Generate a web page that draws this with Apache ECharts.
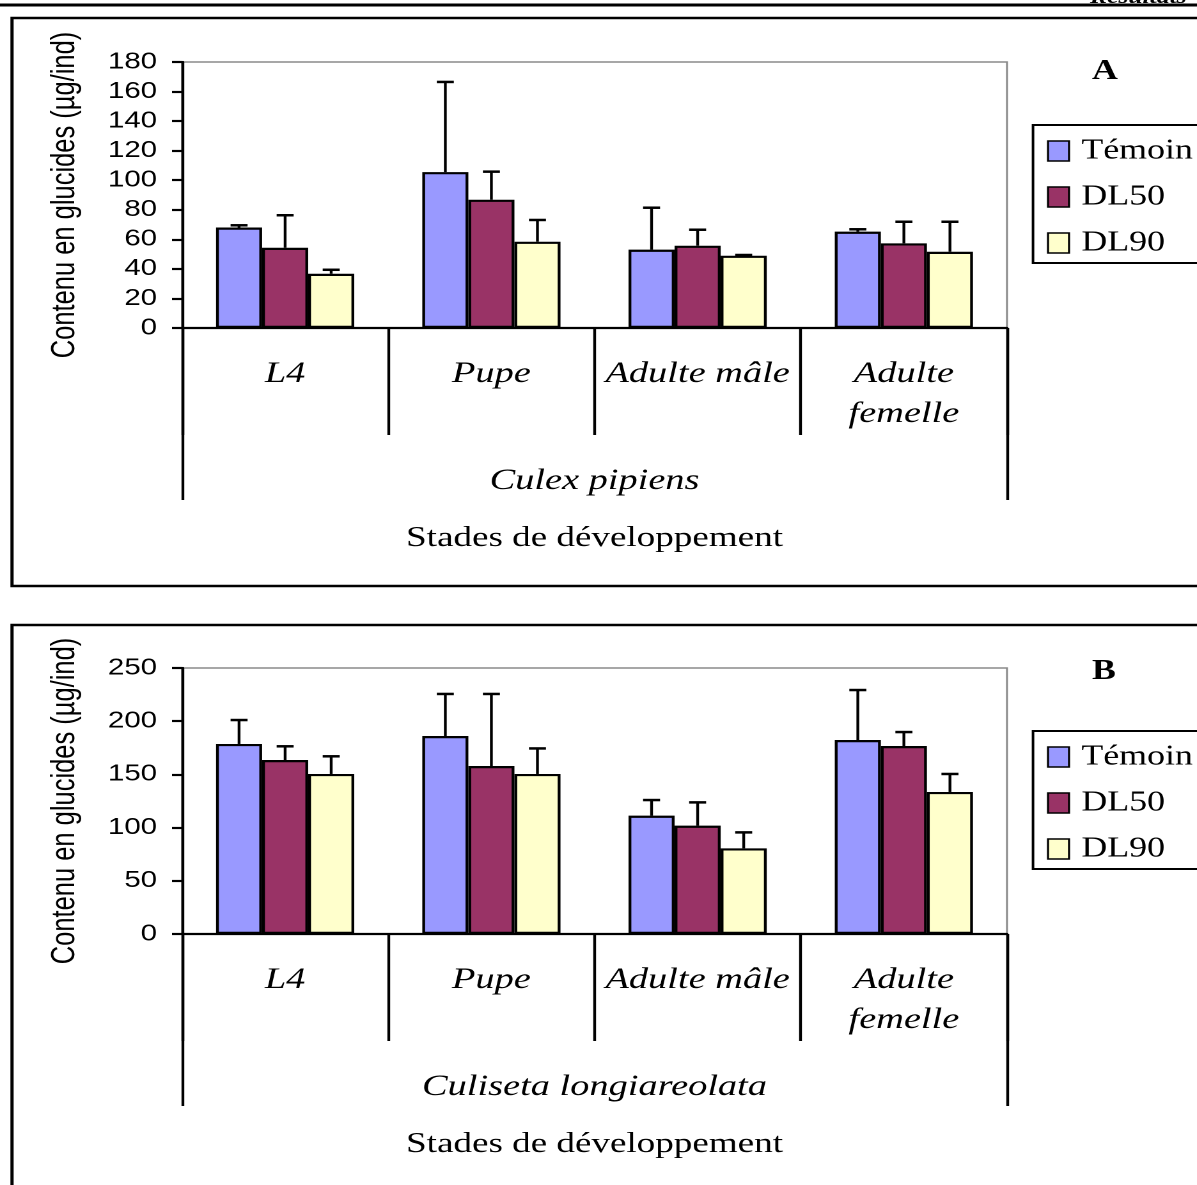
<!DOCTYPE html>
<html>
<head>
<meta charset="utf-8">
<script src="https://cdn.jsdelivr.net/npm/echarts@6/dist/echarts.min.js"></script>
<style>
html,body{margin:0;padding:0;background:#fff;overflow:hidden;width:1197px;height:1185px;}
#c{width:936px;height:1185px;transform:scaleX(1.2788);transform-origin:0 0;}
</style>
</head>
<body>
<div id="c"></div>
<script>
// ---- data ----
const categories = ['L4', 'Pupe', 'Adulte mâle', 'Adulte\nfemelle'];
const seriesNames = ['Témoin', 'DL50', 'DL90'];
const speciesA = 'Culex pipiens';
const speciesB = 'Culiseta longiareolata';
const xTitle = 'Stades de développement';
const yTitle = 'Contenu en glucides (µg/ind)';

const temoinA = [68, 105.5, 53, 65.2];
const temoinErrA = [1.5, 61, 28.4, 1.6];
const dl50A = [54.3, 86.8, 55.7, 57.3];
const dl50ErrA = [22, 19, 10.8, 14.6];
const dl90A = [36.7, 58.4, 48.9, 51.6];
const dl90ErrA = [2.7, 14.7, 0.5, 20.3];

const temoinB = [178.6, 186.1, 111.2, 182.3];
const temoinErrB = [22.5, 39.5, 14.7, 47];
const dl50B = [163.5, 157.9, 101.8, 176.7];
const dl50ErrB = [12.9, 67.7, 21.9, 13.1];
const dl90B = [150.4, 150.4, 80.5, 133.5];
const dl90ErrB = [16.6, 24, 15, 16.9];

const yTicksA = {min: 0, max: 180, interval: 20};
const yTicksB = {min: 0, max: 250, interval: 50};

// ---- styling ----
// The reference is horizontally stretched (~1.28x); the page is drawn narrower and stretched by CSS.
const SX = 1.2788;
const colors = ['#9999FF', '#993366', '#FFFFCC'];
const SERIF = '"Liberation Serif", "Times New Roman", serif';
const SANS = '"Liberation Sans", Arial, sans-serif';
const CAT_GAP = 0.33;

const chart = echarts.init(document.getElementById('c'), null, {renderer: 'canvas', devicePixelRatio: 2});

function errSeries(gridIdx, k, vals, errs) {
  return {
    type: 'custom',
    name: 'err-' + seriesNames[k] + gridIdx,
    xAxisIndex: gridIdx * 2,
    yAxisIndex: gridIdx,
    z: 5,
    silent: true,
    data: vals.map((v, i) => [i, v, errs[i]]),
    renderItem: function (params, api) {
      const ci = api.value(0), v = api.value(1), e = api.value(2);
      const p0 = api.coord([ci, v]);
      const p1 = api.coord([ci, v + e]);
      const band = api.size([1, 0])[0];
      const bw = band * (1 - CAT_GAP) / 3;
      const x = p0[0] + (k - 1) * bw;
      const cap = 8.5 / SX;
      return {
        type: 'group',
        children: [
          {type: 'line', shape: {x1: x, y1: p0[1], x2: x, y2: p1[1]}, style: {stroke: '#000', lineWidth: 2.2}},
          {type: 'line', shape: {x1: x - cap, y1: p1[1], x2: x + cap, y2: p1[1]}, style: {stroke: '#000', lineWidth: 2.5}}
        ]
      };
    }
  };
}

function barSeries(gridIdx, k, vals) {
  return {
    type: 'bar',
    name: seriesNames[k],
    xAxisIndex: gridIdx * 2,
    yAxisIndex: gridIdx,
    barGap: '0%',
    barCategoryGap: (CAT_GAP * 100) + '%',
    itemStyle: {color: colors[k], borderColor: '#000', borderWidth: 2.2},
    data: vals
  };
}

function xAxes(gridIdx, species) {
  return [
    {
      type: 'category', gridIndex: gridIdx, position: 'bottom', data: categories,
      axisLine: {show: true, lineStyle: {color: '#000', width: 2.2}},
      axisTick: {show: true, length: 107, lineStyle: {color: '#000', width: 2.2}},
      axisLabel: {interval: 0, margin: 26, color: '#000', fontFamily: SERIF, fontStyle: 'italic',
        fontSize: 30, lineHeight: 40}
    },
    {
      type: 'category', gridIndex: gridIdx, position: 'bottom', data: [species],
      axisLine: {show: false},
      axisTick: {show: true, length: 172, lineStyle: {color: '#000', width: 2.2}},
      axisLabel: {interval: 0, margin: 133, color: '#000', fontFamily: SERIF, fontStyle: 'italic',
        fontSize: 30, lineHeight: 40},
      name: xTitle, nameLocation: 'middle', nameGap: 196,
      nameTextStyle: {color: '#000', fontFamily: SERIF, fontSize: 29}
    }
  ];
}

function yAxis(gridIdx, t) {
  return {
    type: 'value', gridIndex: gridIdx, min: t.min, max: t.max, interval: t.interval,
    axisLine: {show: true, lineStyle: {color: '#000', width: 2.2}},
    axisTick: {show: true, length: 10 / SX, lineStyle: {color: '#000', width: 2.2}},
    splitLine: {show: false},
    axisLabel: {margin: 25 / SX, color: '#000', fontFamily: SANS, fontSize: 23},
    name: yTitle, nameLocation: 'middle', nameGap: 100 / SX, nameRotate: 90,
    nameTextStyle: {color: '#000', fontFamily: SANS, fontSize: 25.5}
  };
}

function legendAt(top) {
  return {
    data: seriesNames, orient: 'vertical', left: 1033 / SX, top: top,
    borderColor: '#000', borderWidth: 2, padding: [12, 40, 6, 14 / SX],
    itemWidth: 21 / SX, itemHeight: 20, itemGap: 18, selectedMode: false,
    icon: 'rect',
    itemStyle: {borderColor: '#000', borderWidth: 1.6},
    textStyle: {color: '#000', fontFamily: SERIF, fontSize: 28, lineHeight: 28, padding: [0, 0, 0, 6 / SX]}
  };
}

const option = {
  animation: false,
  backgroundColor: '#fff',
  grid: [
    {left: 182 / SX, top: 62, width: 825 / SX, height: 266, show: true, borderColor: '#8a8a8a', borderWidth: 1.5, backgroundColor: '#fff'},
    {left: 182 / SX, top: 668, width: 825 / SX, height: 266, show: true, borderColor: '#8a8a8a', borderWidth: 1.5, backgroundColor: '#fff'}
  ],
  xAxis: [...xAxes(0, speciesA), ...xAxes(1, speciesB)],
  yAxis: [yAxis(0, yTicksA), yAxis(1, yTicksB)],
  legend: [legendAt(125), legendAt(731)],
  graphic: [
    {type: 'line', shape: {x1: 0, y1: 5, x2: 1197 / SX, y2: 5}, style: {stroke: '#000', lineWidth: 3}},
    {type: 'text', left: 1090 / SX, top: -12, style: {text: 'Résultats', fill: '#000', font: 'italic bold 20px ' + SERIF}},
    {type: 'rect', shape: {x: 12 / SX, y: 18, width: 1250 / SX, height: 568}, style: {fill: 'none', stroke: '#000', lineWidth: 2.5}, z: -1},
    {type: 'rect', shape: {x: 12 / SX, y: 625, width: 1250 / SX, height: 700}, style: {fill: 'none', stroke: '#000', lineWidth: 2.5}, z: -1},
    {type: 'text', left: 1092 / SX, top: 58, style: {text: 'A', fill: '#000', font: 'bold 28px ' + SERIF}},
    {type: 'text', left: 1092 / SX, top: 658, style: {text: 'B', fill: '#000', font: 'bold 28px ' + SERIF}}
  ],
  series: [
    barSeries(0, 0, temoinA), barSeries(0, 1, dl50A), barSeries(0, 2, dl90A),
    errSeries(0, 0, temoinA, temoinErrA), errSeries(0, 1, dl50A, dl50ErrA), errSeries(0, 2, dl90A, dl90ErrA),
    barSeries(1, 0, temoinB), barSeries(1, 1, dl50B), barSeries(1, 2, dl90B),
    errSeries(1, 0, temoinB, temoinErrB), errSeries(1, 1, dl50B, dl50ErrB), errSeries(1, 2, dl90B, dl90ErrB)
  ]
};
chart.setOption(option);
</script>
</body>
</html>
